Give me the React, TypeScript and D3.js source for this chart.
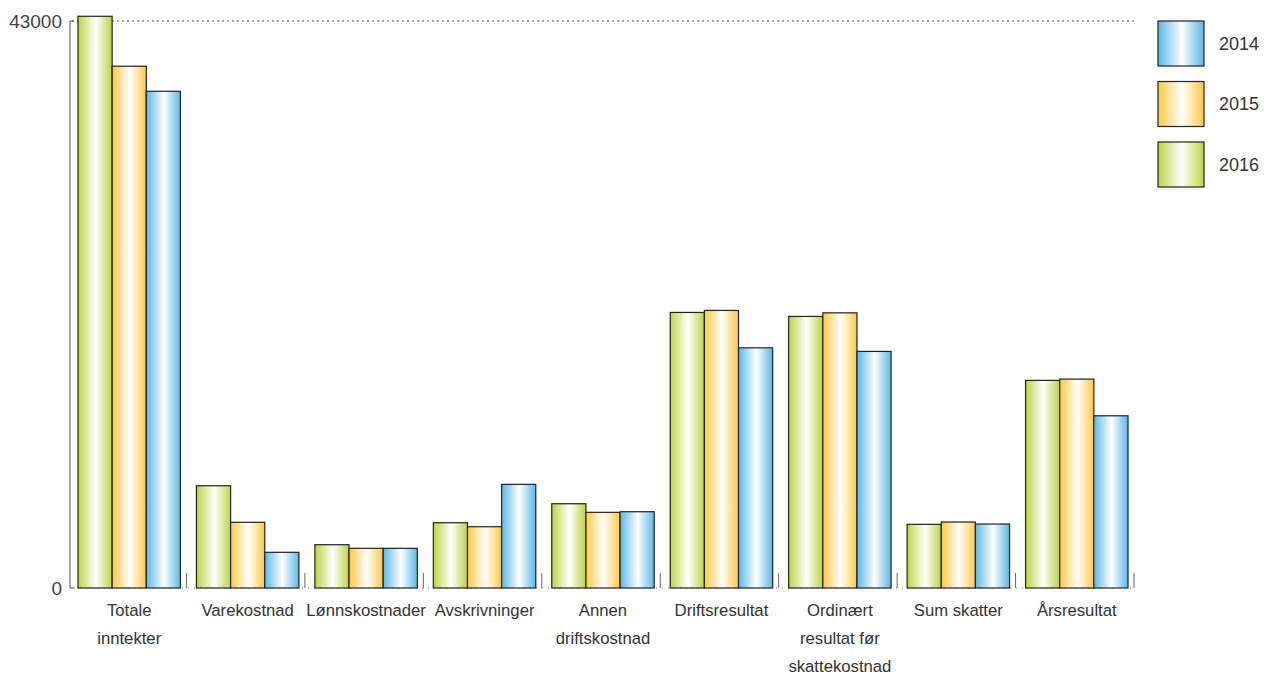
import React, {useEffect, useRef} from 'react';
import * as d3 from 'd3';

const categories = [
    ['Totale', 'inntekter'],
    ['Varekostnad'],
    ['Lønnskostnader'],
    ['Avskrivninger'],
    ['Annen', 'driftskostnad'],
    ['Driftsresultat'],
    ['Ordinært', 'resultat før', 'skattekostnad'],
    ['Sum skatter'],
    ['Årsresultat'],
];

// bar order inside each group: 2016, 2015, 2014
const series = ['2016', '2015', '2014'];
const values2016 = [43360, 7755, 3282, 4950, 6390, 20898, 20595, 4828, 15744];
const values2015 = [39570, 4980, 3009, 4647, 5738, 21050, 20868, 5003, 15842];
const values2014 = [37670, 2706, 3009, 7860, 5784, 18215, 17942, 4851, 13060];
const legendOrder = ['2014', '2015', '2016'];
const yTicks = [0, 43000];

const colors: Record<string, string> = {
    '2014': '#5bb8e8',
    '2015': '#ffc845',
    '2016': '#bdd444',
};

const WIDTH = 1267;
const HEIGHT = 675;

const App: React.FC = () => {
    const svgRef = useRef<SVGSVGElement | null>(null);

    useEffect(() => {
        if (svgRef.current) {
            drawChart();
        }
    }, []);

    const drawChart = () => {
        const svg = d3.select(svgRef.current);
        svg.selectAll('*').remove();

        const font = '"Liberation Sans", Arial, sans-serif';
        const valuesBySeries: Record<string, number[]> = {
            '2016': values2016,
            '2015': values2015,
            '2014': values2014,
        };

        const x = d3.scaleBand<number>()
            .domain(d3.range(categories.length))
            .range([70, 1136]);
        const xSub = d3.scaleBand<string>()
            .domain(series)
            .range([8, x.bandwidth() - 8]);
        const y = d3.scaleLinear().domain([0, 43000]).range([588, 21]);

        // horizontal gradients, white in the middle
        const defs = svg.append('defs');
        Object.keys(colors).forEach((key) => {
            const g = defs.append('linearGradient')
                .attr('id', 'grad' + key)
                .attr('x1', '0%').attr('x2', '100%')
                .attr('y1', '0%').attr('y2', '0%');
            g.append('stop').attr('offset', '0%').attr('stop-color', colors[key]);
            g.append('stop').attr('offset', '52%').attr('stop-color', '#ffffff');
            g.append('stop').attr('offset', '100%').attr('stop-color', colors[key]);
        });

        // dotted line at max
        svg.append('line')
            .attr('x1', 72).attr('x2', 1136)
            .attr('y1', y(43000)).attr('y2', y(43000))
            .attr('stroke', '#555')
            .attr('stroke-width', 1)
            .attr('stroke-dasharray', '2,3');

        // y axis bracket
        svg.append('line')
            .attr('x1', 70).attr('x2', 70)
            .attr('y1', y(43000)).attr('y2', y(0))
            .attr('stroke', '#555');
        yTicks.forEach((t) => {
            svg.append('line')
                .attr('x1', 70).attr('x2', 74)
                .attr('y1', y(t)).attr('y2', y(t))
                .attr('stroke', '#555');
            svg.append('text')
                .attr('x', 62)
                .attr('y', y(t))
                .attr('dy', '0.35em')
                .attr('text-anchor', 'end')
                .style('font-family', font)
                .style('font-size', '19px')
                .style('fill', '#444')
                .text(t);
        });

        // x axis: dotted baseline + ticks at group boundaries
        svg.append('line')
            .attr('x1', 74).attr('x2', 1136)
            .attr('y1', y(0)).attr('y2', y(0))
            .attr('stroke', '#777')
            .attr('stroke-dasharray', '1,5');
        d3.range(1, categories.length + 1).forEach((i) => {
            const bx = 70 + i * x.step() - 2;
            svg.append('line')
                .attr('x1', bx).attr('x2', bx)
                .attr('y1', y(0) - 15).attr('y2', y(0))
                .attr('stroke', '#666');
        });

        // bars
        categories.forEach((cat, i) => {
            const g = svg.append('g').attr('transform', `translate(${x(i)},0)`);
            series.forEach((s) => {
                const v = valuesBySeries[s][i];
                g.append('rect')
                    .attr('x', xSub(s) as number)
                    .attr('y', y(v))
                    .attr('width', xSub.bandwidth())
                    .attr('height', y(0) - y(v))
                    .attr('fill', `url(#grad${s})`)
                    .attr('stroke', '#222')
                    .attr('stroke-width', 1.2);
            });

            const label = svg.append('text')
                .attr('x', (x(i) as number) + x.bandwidth() / 2)
                .attr('y', 616)
                .attr('text-anchor', 'middle')
                .style('font-family', font)
                .style('font-size', '16.7px')
                .style('fill', '#333');
            cat.forEach((line, j) => {
                label.append('tspan')
                    .attr('x', (x(i) as number) + x.bandwidth() / 2)
                    .attr('dy', j === 0 ? 0 : 28)
                    .text(line);
            });
        });

        // legend
        legendOrder.forEach((s, i) => {
            const ly = 21 + i * 60.5;
            svg.append('rect')
                .attr('x', 1158).attr('y', ly)
                .attr('width', 46).attr('height', 45)
                .attr('fill', `url(#grad${s})`)
                .attr('stroke', '#222')
                .attr('stroke-width', 1.2);
            svg.append('text')
                .attr('x', 1219)
                .attr('y', ly + 22.5)
                .attr('dy', '0.35em')
                .style('font-family', font)
                .style('font-size', '18px')
                .style('fill', '#333')
                .text(s);
        });
    };

    return (
        <svg ref={svgRef} width={WIDTH} height={HEIGHT}
             style={{position: 'absolute', left: 0, top: 0, background: '#fff'}}></svg>
    );
};

export default App;
